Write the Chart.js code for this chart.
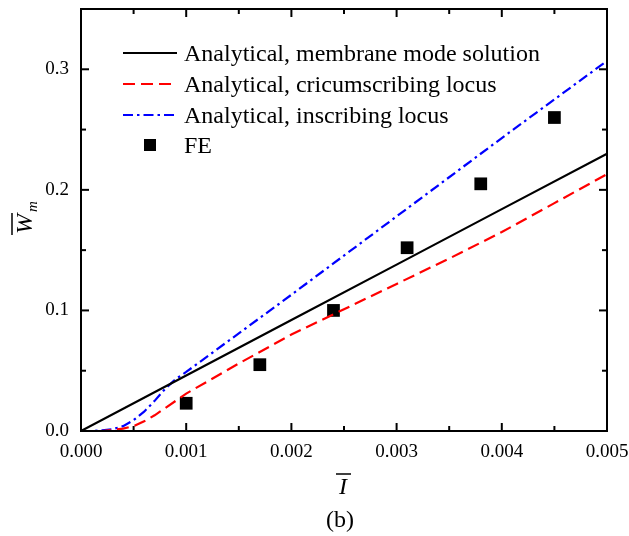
<!DOCTYPE html>
<html>
<head>
<meta charset="utf-8">
<script src="https://cdn.jsdelivr.net/npm/chart.js@4.4.0/dist/chart.umd.min.js"></script>
<style>
  html, body { margin: 0; padding: 0; background: #fff; }
  canvas { display: block; }
</style>
</head>
<body>
<canvas id="myChart" width="629" height="536"></canvas>
<script>
// values (b)
var xTicks = [0, 0.001, 0.002, 0.003, 0.004, 0.005];
var yTicks = [0, 0.1, 0.2, 0.3];

var membraneX = [0, 0.001, 0.002, 0.003, 0.004, 0.005];
var membraneY = [0, 0.046, 0.092, 0.138, 0.184, 0.230];

var circumX = [0, 0.0002, 0.0003, 0.0004, 0.0005, 0.0006, 0.0007, 0.0008, 0.0009, 0.001, 0.0015, 0.002, 0.0025, 0.003, 0.0035, 0.004, 0.0045, 0.005];
var circumY = [0, 0, 0.001, 0.002, 0.004, 0.008, 0.013, 0.019, 0.025, 0.031, 0.056, 0.080, 0.101, 0.122, 0.143, 0.165, 0.189, 0.213];

var inscribX = [0, 0.0001, 0.0002, 0.0003, 0.0004, 0.0005, 0.0006, 0.0007, 0.0008, 0.0009, 0.001, 0.002, 0.003, 0.004, 0.005];
var inscribY = [0, 0, 0.0005, 0.0015, 0.004, 0.009, 0.016, 0.025, 0.035, 0.043, 0.049, 0.113, 0.178, 0.243, 0.307];

var feX = [0.001, 0.0017, 0.0024, 0.0031, 0.0038, 0.0045];
var feY = [0.023, 0.055, 0.100, 0.152, 0.205, 0.260];

var seriesNames = [
  'Analytical, membrane mode solution',
  'Analytical, cricumscribing locus',
  'Analytical, inscribing locus',
  'FE'
];

function pts(xs, ys) {
  return xs.map(function(x, i) { return {x: x, y: ys[i]}; });
}

var serif = '"Liberation Serif", "Times New Roman", serif';

// inward ticks on all four sides, frame, legend, titles
var decorations = {
  id: 'decorations',
  afterDatasetsDraw: function(chart) {
    var c = chart.ctx, a = chart.chartArea;
    var xs = chart.scales.x, ys = chart.scales.y;
    c.save();
    c.strokeStyle = '#000';
    c.lineWidth = 2;
    c.strokeRect(a.left, a.top, a.right - a.left, a.bottom - a.top);

    function tick(x1, y1, x2, y2) {
      c.beginPath(); c.moveTo(x1, y1); c.lineTo(x2, y2); c.stroke();
    }
    var i, p, v;
    for (i = 0; i < xTicks.length; i++) {
      p = xs.getPixelForValue(xTicks[i]);
      tick(p, a.bottom, p, a.bottom - 8);
      tick(p, a.top, p, a.top + 8);
      if (i < xTicks.length - 1) {
        v = (xTicks[i] + xTicks[i + 1]) / 2;
        p = xs.getPixelForValue(v);
        tick(p, a.bottom, p, a.bottom - 5);
        tick(p, a.top, p, a.top + 5);
      }
    }
    for (i = 0; i < yTicks.length; i++) {
      p = ys.getPixelForValue(yTicks[i]);
      tick(a.left, p, a.left + 8, p);
      tick(a.right, p, a.right - 8, p);
      v = yTicks[i] + 0.05;
      if (v <= ys.max) {
        p = ys.getPixelForValue(v);
        tick(a.left, p, a.left + 5, p);
        tick(a.right, p, a.right - 5, p);
      }
    }

    // legend
    var rows = [53, 84, 115, 145];
    c.font = '24px ' + serif;
    c.textBaseline = 'middle';
    chart.data.datasets.forEach(function(ds, k) {
      var y = rows[k];
      if (ds.showLine) {
        c.strokeStyle = ds.borderColor;
        c.lineWidth = ds.borderWidth;
        c.setLineDash(ds.borderDash || []);
        tick(123, y, 177, y);
        c.setLineDash([]);
      } else {
        c.fillStyle = ds.backgroundColor;
        c.fillRect(144, y - 6, 12, 12);
      }
      c.fillStyle = '#000';
      c.fillText(ds.label, 184, y + 2);
    });

    c.strokeStyle = '#000';
    c.fillStyle = '#000';
    c.lineWidth = 1.5;

    // x title with overbar
    c.font = 'italic 24px ' + serif;
    c.textAlign = 'center';
    c.textBaseline = 'alphabetic';
    c.fillText('I', 343, 494);
    tick(336, 474, 351, 474);

    c.font = '24px ' + serif;
    c.fillText('(b)', 340, 527);

    // y title with overbar, rotated
    c.translate(32, 224);
    c.rotate(-Math.PI / 2);
    c.font = 'italic 24px ' + serif;
    c.textAlign = 'center';
    c.fillText('W', 0, 0);
    tick(-11, -20, 11, -20);
    c.font = 'italic 15px ' + serif;
    c.textAlign = 'left';
    c.fillText('m', 12, 5);
    c.restore();
  }
};

var ctx = document.getElementById('myChart').getContext('2d');
var chart = new Chart(ctx, {
  type: 'scatter',
  data: {
    datasets: [{
      label: seriesNames[0],
      data: pts(membraneX, membraneY),
      showLine: true,
      borderColor: '#000',
      borderWidth: 2.2,
      pointRadius: 0
    }, {
      label: seriesNames[1],
      data: pts(circumX, circumY),
      showLine: true,
      borderColor: '#ff0000',
      borderWidth: 2.2,
      borderDash: [12, 6],
      pointRadius: 0
    }, {
      label: seriesNames[2],
      data: pts(inscribX, inscribY),
      showLine: true,
      borderColor: '#0000ff',
      borderWidth: 2.2,
      borderDash: [10, 4, 2.5, 4],
      pointRadius: 0
    }, {
      label: seriesNames[3],
      data: pts(feX, feY),
      showLine: false,
      pointStyle: 'rect',
      pointRadius: 9,
      pointBorderWidth: 0,
      backgroundColor: '#000',
      borderColor: '#000'
    }]
  },
  options: {
    responsive: false,
    animation: false,
    layout: { padding: { top: 7, right: 22, left: 0, bottom: 0 } },
    plugins: { legend: { display: false }, tooltip: { enabled: false } },
    scales: {
      x: {
        type: 'linear',
        min: 0,
        max: 0.005,
        afterBuildTicks: function(s) { s.ticks = xTicks.map(function(v) { return {value: v}; }); },
        afterFit: function(s) { s.height = 105; s.paddingLeft = 0; s.paddingRight = 0; },
        grid: { display: false, drawTicks: false },
        border: { display: false },
        ticks: {
          padding: 10,
          color: '#000',
          maxRotation: 0,
          font: { family: serif, size: 19 },
          callback: function(v) { return v.toFixed(3); }
        }
      },
      y: {
        type: 'linear',
        min: 0,
        max: 0.35,
        afterBuildTicks: function(s) { s.ticks = yTicks.map(function(v) { return {value: v}; }); },
        afterFit: function(s) { s.width = 81; s.paddingTop = 0; s.paddingBottom = 0; },
        grid: { display: false, drawTicks: false },
        border: { display: false },
        ticks: {
          padding: 12,
          color: '#000',
          font: { family: serif, size: 19 },
          callback: function(v) { return v.toFixed(1); }
        }
      }
    }
  },
  plugins: [decorations]
});
</script>
</body>
</html>
